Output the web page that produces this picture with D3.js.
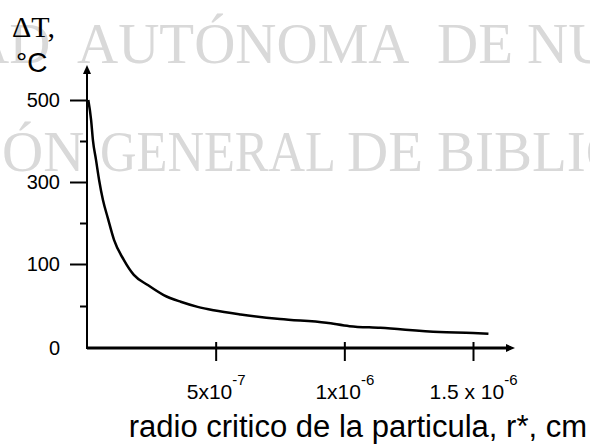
<!DOCTYPE html>
<html>
<head>
<meta charset="utf-8">
<script src="https://cdn.jsdelivr.net/npm/d3@7"></script>
<style>
  body { margin: 0; background: #fff; }
  svg { display: block; }
  .tick text { font-family: "Liberation Sans", Arial, sans-serif; fill: #000; }
  .tick line { stroke: #000; stroke-width: 2; }
</style>
</head>
<body>
<script>
// values
let radius = [0.5e-8, 1.6e-8, 2.3e-8, 3.5e-8, 4.7e-8, 6.2e-8, 8.1e-8, 1.05e-7, 1.43e-7, 1.82e-7,
              2.36e-7, 2.98e-7, 3.64e-7, 4.3e-7, 4.92e-7, 5.97e-7, 7.5e-7, 9.3e-7, 1.02e-6,
              1.14e-6, 1.37e-6, 1.5e-6, 1.56e-6]; // cm
let deltaT = [500, 451, 402, 354, 305, 256, 212, 159, 110, 87,
              75, 63, 55, 49, 45, 40, 34.5, 30, 26,
              24, 19, 18, 17]; // °C

let yMajorTicks = [0, 100, 300, 500];
let yMinorTicks = [50, 200, 400];
let xTicks = [5e-7, 1e-6, 1.5e-6];
let xTickBase = ["5x10", "1x10", "1.5 x 10"];
let xTickExp = ["-7", "-6", "-6"];

let yTitle = ["ΔT,", "°C"];
let xTitle = "radio critico de la particula, r*, cm";
let watermarkTop = ["AD", "AUTÓNOMA", "DE", "NUEVO"];
let watermarkBottom = ["ÓN", "GENERAL", "DE", "BIBLIOTECAS"];

let width = 590,
    height = 445;

let svg = null;
let x, y = null; // scales

appendSvg("body");
appendWatermark();
setupXScale();
setupYScale();
appendXAxis();
appendYAxis();
appendCurve();
appendTitles();


function appendSvg(domElement) {
  svg = d3.select(domElement).append("svg")
    .attr("width", width)
    .attr("height", height);
}

function appendWatermark() {
  let g = svg.append("g")
    .style("font-family", "'Liberation Serif', 'Times New Roman', serif")
    .style("font-size", "57px")
    .style("fill", "#d9d9d9");

  // word positions measured on the scan, the stamp is not evenly spaced
  let topX = [-32, 77, 437, 527];
  let bottomX = [2, 100, 347, 437];

  g.selectAll(".wm-top").data(watermarkTop).enter().append("text")
    .attr("x", (d, i) => topX[i])
    .attr("y", 63)
    .text(d => d);

  g.selectAll(".wm-bottom").data(watermarkBottom).enter().append("text")
    .attr("x", (d, i) => bottomX[i])
    .attr("y", 171)
    .text(d => d);

  g.selectAll("text").filter(d => d === "GENERAL")
    .attr("textLength", 236)
    .attr("lengthAdjust", "spacingAndGlyphs");
}

function setupXScale() {
  x = d3.scaleLinear()
    .domain([0, 1.5e-6])
    .range([87, 473]);
}

function setupYScale() {
  // the printed axis is not linear: 0-100 takes twice the room of each 100 above
  y = d3.scaleLinear()
    .domain([0, 100, 500])
    .range([348, 264, 100]);
}

function appendXAxis() {
  let axis = svg.append("g")
    .attr("transform", `translate(0, ${y(0)})`)
    .call(d3.axisBottom(x).tickValues(xTicks).tickSize(13).tickFormat(""));

  axis.select(".domain").remove();
  axis.selectAll(".tick line").attr("y1", -6);

  axis.selectAll(".tick").append("text")
    .attr("y", 51)
    .attr("text-anchor", "middle")
    .style("font-size", "21px")
    .each(function(d, i) {
      let t = d3.select(this);
      t.append("tspan").text(xTickBase[i]);
      t.append("tspan").attr("dy", -14).style("font-size", "15px").text(xTickExp[i]);
    });

  // axis line with arrow
  let x0 = x(0), x1 = x(1.5e-6) + 38;
  svg.append("line")
    .attr("x1", x0).attr("x2", x1)
    .attr("y1", y(0)).attr("y2", y(0))
    .attr("stroke", "#000").attr("stroke-width", 3);
  svg.append("path")
    .attr("d", `M${x1 + 4},${y(0)} l-9,-4 l0,8 z`)
    .attr("fill", "#000");
}

function appendYAxis() {
  let major = svg.append("g")
    .attr("transform", `translate(${x(0)}, 0)`)
    .call(d3.axisLeft(y).tickValues(yMajorTicks).tickSize(17).tickPadding(10).tickFormat(d3.format("d")));
  major.select(".domain").remove();
  major.selectAll(".tick text").style("font-size", "20px");
  major.selectAll(".tick").filter(d => d === 0).select("line").remove();

  let minor = svg.append("g")
    .attr("transform", `translate(${x(0)}, 0)`)
    .call(d3.axisLeft(y).tickValues(yMinorTicks).tickSize(7).tickFormat(""));
  minor.select(".domain").remove();

  let yTop = y(500) - 31;
  svg.append("line")
    .attr("x1", x(0)).attr("x2", x(0))
    .attr("y1", y(0) + 1).attr("y2", yTop)
    .attr("stroke", "#000").attr("stroke-width", 2);
  svg.append("path")
    .attr("d", `M${x(0)},${yTop - 4} l-4,9 l8,0 z`)
    .attr("fill", "#000");
}

function appendCurve() {
  let line = d3.line()
    .x((d, i) => x(radius[i]))
    .y(d => y(d))
    .curve(d3.curveMonotoneX);

  svg.append("path")
    .datum(deltaT)
    .attr("d", line)
    .attr("fill", "none")
    .attr("stroke", "#000")
    .attr("stroke-width", 2.5);
}

function appendTitles() {
  svg.append("text")
    .attr("x", 12).attr("y", 37)
    .style("font-family", "'Liberation Serif', 'Times New Roman', serif")
    .style("font-size", "30px")
    .text(yTitle[0]);

  svg.append("text")
    .attr("x", 16).attr("y", 72)
    .style("font-family", "'Liberation Sans', Arial, sans-serif")
    .style("font-size", "28px")
    .text(yTitle[1]);

  svg.append("text")
    .attr("x", 587).attr("y", 437)
    .attr("text-anchor", "end")
    .style("font-family", "'Liberation Sans', Arial, sans-serif")
    .style("font-size", "31px")
    .text(xTitle);
}
</script>
</body>
</html>
